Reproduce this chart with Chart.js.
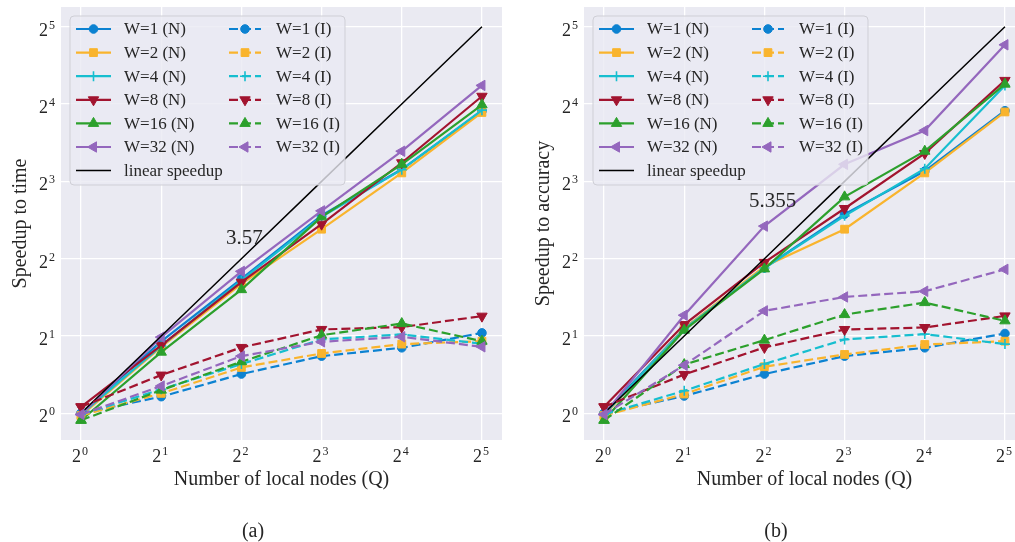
<!DOCTYPE html>
<html>
<head>
<meta charset="utf-8">
<script src="https://cdn.jsdelivr.net/npm/chart.js@4.4.1/dist/chart.umd.min.js"></script>
<style>
  html, body { margin: 0; padding: 0; background: #fff; }
  body { width: 1015px; height: 542px; overflow: hidden; position: relative; }
  canvas { position: absolute; top: 0; }
  #timeChart { left: 0; }
  #accChart { left: 523px; }
</style>
</head>
<body>
<canvas id="timeChart" width="510" height="542"></canvas>
<canvas id="accChart" width="510" height="542"></canvas>
<script>
// Number of local nodes (x axis)
const nodes = [1, 2, 4, 8, 16, 32];
const workerCounts = [1, 2, 4, 8, 16, 32];
const tickValues = [1, 2, 4, 8, 16, 32];
const tickExponents = ['0', '1', '2', '3', '4', '5'];
const linearSpeedup = [1, 2, 4, 8, 16, 32];

// (a) speedup to time, one row per W
const timeN = [
  [1.00, 1.905, 3.34, 5.90, 8.91, 15.03],  // W=1
  [0.98, 1.815, 3.19, 5.21, 8.63, 14.83],  // W=2
  [0.99, 1.83, 3.29, 5.82, 8.88, 15.14],   // W=4
  [1.06, 1.84, 3.24, 5.45, 9.45, 17.15],   // W=8
  [0.94, 1.73, 3.03, 5.82, 9.32, 15.89],   // W=16
  [0.99, 1.98, 3.57, 6.14, 10.48, 18.9]    // W=32
];
const timeI = [
  [1.00, 1.161, 1.422, 1.670, 1.799, 2.056],
  [0.98, 1.196, 1.509, 1.710, 1.860, 1.909],
  [0.99, 1.240, 1.555, 1.939, 2.028, 1.866],
  [1.06, 1.409, 1.805, 2.121, 2.166, 2.389],
  [0.94, 1.231, 1.588, 2.014, 2.236, 1.909],
  [0.99, 1.277, 1.670, 1.899, 1.986, 1.815]
];

// (b) speedup to accuracy
const accN = [
  [1.00, 2.144, 3.68, 5.96, 8.77, 15.07],
  [0.98, 2.144, 3.73, 5.21, 8.63, 14.9],
  [0.99, 2.129, 3.68, 5.87, 8.96, 18.9],
  [1.06, 2.216, 3.87, 6.27, 10.27, 19.77],
  [0.94, 2.107, 3.65, 6.96, 10.48, 19.12],
  [0.99, 2.41, 5.355, 9.32, 12.61, 27.2]
];
const accI = [
  [1.00, 1.168, 1.422, 1.670, 1.799, 2.045],
  [0.98, 1.189, 1.518, 1.695, 1.853, 1.909],
  [0.99, 1.224, 1.555, 1.939, 2.034, 1.860],
  [1.06, 1.417, 1.805, 2.120, 2.158, 2.395],
  [0.94, 1.548, 1.927, 2.423, 2.698, 2.291],
  [0.99, 1.539, 2.505, 2.838, 2.986, 3.635]
];

// W=32 (N) at Q=4, written on the plots
const annotTime = 3.57;
const annotAcc = 5.355;

// styles
const colors = ['#0c82d1', '#f9b42d', '#17becf', '#a2142f', '#2ca02c', '#9467bd'];
const markers = ['circle', 'rect', 'cross', 'triangle', 'triangle', 'triangle'];
const markerRot = [0, 0, 0, 180, 0, 270];
const markerSize = [4.3, 5.5, 5, 6, 6, 6];
const dashPattern = [9, 4];
const serif = '"Liberation Serif", "Times New Roman", serif';

function series(label, vals, k, dash) {
  return {
    label: label,
    data: nodes.map((q, j) => ({ x: q, y: vals[j] })),
    borderColor: colors[k],
    backgroundColor: colors[k],
    borderWidth: 2.2,
    borderDash: dash,
    tension: 0,
    pointStyle: markers[k],
    pointRotation: markerRot[k],
    pointRadius: markerSize[k],
    pointHoverRadius: markerSize[k],
    pointBackgroundColor: colors[k],
    pointBorderColor: colors[k],
    pointBorderWidth: markers[k] === 'cross' ? 1.6 : 1
  };
}

function buildDatasets(nSeries, iSeries) {
  const ds = [];
  nSeries.forEach((vals, k) => ds.push(series('W=' + workerCounts[k] + ' (N)', vals, k, [])));
  ds.push({
    label: 'linear speedup',
    data: nodes.map((q, j) => ({ x: q, y: linearSpeedup[j] })),
    borderColor: '#000',
    borderWidth: 1.5,
    pointRadius: 0,
    tension: 0
  });
  iSeries.forEach((vals, k) => ds.push(series('W=' + workerCounts[k] + ' (I)', vals, k, dashPattern)));
  // later series on top, like matplotlib
  ds.forEach((d, i) => { d.order = ds.length - i; });
  return ds;
}

function drawMarker(ctx, d, x, y) {
  if (!d.pointStyle || !d.pointRadius) return;
  ctx.save();
  ctx.setLineDash([]);
  ctx.fillStyle = d.pointBackgroundColor;
  ctx.strokeStyle = d.pointBorderColor;
  ctx.lineWidth = d.pointBorderWidth;
  Chart.helpers.drawPoint(ctx, {
    pointStyle: d.pointStyle,
    rotation: d.pointRotation,
    radius: d.pointRadius,
    borderWidth: d.pointBorderWidth
  }, x, y);
  ctx.restore();
}

function roundRect(ctx, x, y, w, h, r) {
  ctx.beginPath();
  ctx.moveTo(x + r, y);
  ctx.arcTo(x + w, y, x + w, y + h, r);
  ctx.arcTo(x + w, y + h, x, y + h, r);
  ctx.arcTo(x, y + h, x, y, r);
  ctx.arcTo(x, y, x + w, y, r);
  ctx.closePath();
}

// background, tick labels, titles, legend
const decor = {
  id: 'decor',
  beforeDraw(chart) {
    const { ctx, chartArea: a } = chart;
    ctx.save();
    ctx.fillStyle = '#eaeaf2';
    ctx.fillRect(a.left, a.top, a.right - a.left, a.bottom - a.top);
    ctx.restore();
  },
  afterDraw(chart) {
    const o = chart.options.plugins.decor;
    const { ctx, chartArea: a } = chart;
    const xs = chart.scales.x, ys = chart.scales.y;
    ctx.save();
    ctx.fillStyle = '#262626';

    // x tick labels
    tickValues.forEach((v, i) => {
      const px = xs.getPixelForValue(v);
      ctx.font = '18px ' + serif;
      const w2 = ctx.measureText('2').width;
      ctx.font = '12px ' + serif;
      const we = ctx.measureText(tickExponents[i]).width;
      const x0 = px - (w2 + 1 + we) / 2 - 1;
      ctx.textAlign = 'left';
      ctx.textBaseline = 'alphabetic';
      ctx.font = '18px ' + serif;
      ctx.fillText('2', x0, a.bottom + 22);
      ctx.font = '12px ' + serif;
      ctx.fillText(tickExponents[i], x0 + w2 + 1, a.bottom + 15);
    });

    // y tick labels
    tickValues.forEach((v, i) => {
      const py = ys.getPixelForValue(v);
      ctx.font = '12px ' + serif;
      const we = ctx.measureText(tickExponents[i]).width;
      const xr = a.left - 6;
      ctx.textAlign = 'left';
      ctx.fillText(tickExponents[i], xr - we, py + 2);
      ctx.font = '18px ' + serif;
      const w2 = ctx.measureText('2').width;
      ctx.fillText('2', xr - we - 1 - w2, py + 9);
    });

    // axis titles
    ctx.font = '20px ' + serif;
    ctx.textAlign = 'center';
    ctx.fillText('Number of local nodes (Q)', (a.left + a.right) / 2, a.bottom + 45);
    ctx.save();
    ctx.translate(o.yTitleX, (a.top + a.bottom) / 2);
    ctx.rotate(-Math.PI / 2);
    ctx.textBaseline = 'middle';
    ctx.fillText(o.yTitle, 0, 0);
    ctx.restore();

    // subfigure caption
    ctx.font = '20px ' + serif;
    ctx.textAlign = 'center';
    ctx.fillText(o.caption, 253, 537);

    // value annotation
    ctx.font = '21px ' + serif;
    ctx.textAlign = 'left';
    ctx.fillText(o.annot.text, xs.getPixelForValue(3.5), ys.getPixelForValue(o.annot.value + 1));

    // legend box
    const bx = a.left + 9, by = a.top + 9, bw = 275, bh = 169;
    roundRect(ctx, bx, by, bw, bh, 4);
    ctx.fillStyle = 'rgba(234,234,242,0.8)';
    ctx.fill();
    ctx.strokeStyle = '#cfcfd6';
    ctx.lineWidth = 1;
    ctx.stroke();

    const rowH = 23.6;
    chart.data.datasets.forEach((d, i) => {
      const col = i < 7 ? 0 : 1;
      const row = i < 7 ? i : i - 7;
      const cy = by + 13 + row * rowH;
      const l0 = bx + (col ? 159 : 6), l1 = bx + (col ? 191 : 41);
      const tx = bx + (col ? 206 : 54);
      ctx.save();
      ctx.strokeStyle = d.borderColor;
      ctx.lineWidth = d.borderWidth;
      ctx.setLineDash(d.borderDash || []);
      ctx.beginPath();
      ctx.moveTo(l0, cy);
      ctx.lineTo(l1, cy);
      ctx.stroke();
      ctx.restore();
      drawMarker(ctx, d, (l0 + l1) / 2, cy);
      ctx.fillStyle = '#262626';
      ctx.font = '17px ' + serif;
      ctx.textAlign = 'left';
      ctx.textBaseline = 'middle';
      ctx.fillText(d.label, tx, cy + 1);
      ctx.textBaseline = 'alphabetic';
    });
    ctx.restore();
  }
};

function makeChart(id, nSeries, iSeries, yTitle, caption, annotValue) {
  const ctx = document.getElementById(id).getContext('2d');
  return new Chart(ctx, {
    type: 'line',
    data: { datasets: buildDatasets(nSeries, iSeries) },
    options: {
      responsive: false,
      animation: false,
      events: [],
      layout: { padding: { left: 0, top: 5, right: 8, bottom: 0 } },
      plugins: {
        legend: { display: false },
        tooltip: { enabled: false },
        decor: {
          yTitle: yTitle,
          yTitleX: 21,
          caption: caption,
          annot: { text: String(annotValue), value: annotValue }
        }
      },
      scales: {
        x: {
          type: 'logarithmic',
          bounds: 'data',
          min: Math.pow(2, -0.25),
          max: Math.pow(2, 5.25),
          afterBuildTicks: (s) => { s.ticks = tickValues.map(v => ({ value: v })); },
          afterFit: (s) => { s.height = 102; },
          ticks: { display: false },
          grid: { color: '#ffffff', lineWidth: 1.3, drawTicks: false },
          border: { display: false }
        },
        y: {
          type: 'logarithmic',
          bounds: 'data',
          min: Math.pow(2, -0.345),
          max: Math.pow(2, 5.2545),
          afterBuildTicks: (s) => { s.ticks = tickValues.map(v => ({ value: v })); },
          afterFit: (s) => { s.width = 61; },
          ticks: { display: false },
          grid: { color: '#ffffff', lineWidth: 1.3, drawTicks: false },
          border: { display: false }
        }
      }
    },
    plugins: [decor]
  });
}

makeChart('timeChart', timeN, timeI, 'Speedup to time', '(a)', annotTime);
makeChart('accChart', accN, accI, 'Speedup to accuracy', '(b)', annotAcc);
</script>
</body>
</html>
